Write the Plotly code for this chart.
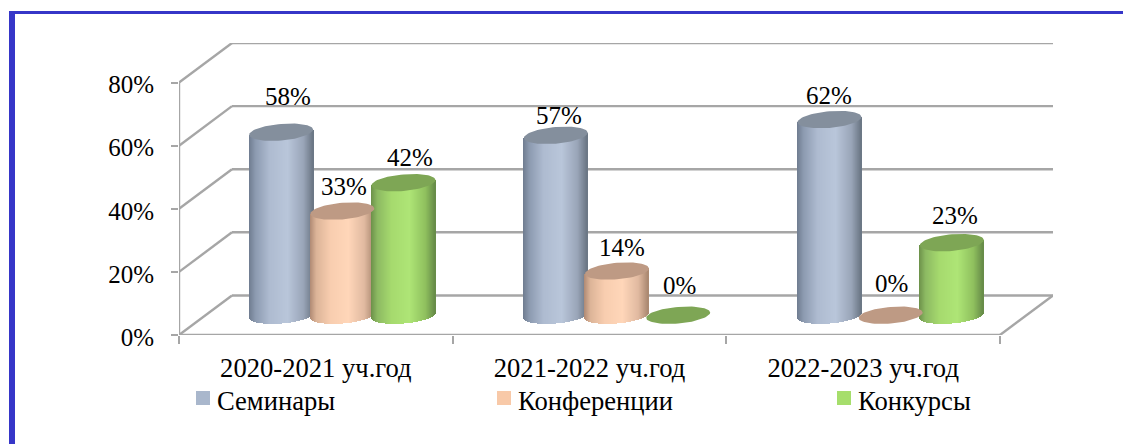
import numpy as np
import plotly.graph_objects as go

categories = ["2020-2021 уч.год", "2021-2022 уч.год", "2022-2023 уч.год"]
series_names = ["Семинары", "Конференции", "Конкурсы"]
seminars = [58, 57, 62]
conferences = [33, 14, 0]
contests = [42, 0, 23]
y_ticks = [0, 20, 40, 60, 80]

# ---- styling / geometry
W, H = 1123, 444
L, R, T, B = 179, 1053, 43, 335
PX_X = 273.67
DX = (R - L) / PX_X - 3          # depth in x units
DY = 12.54                       # depth in y units
PX_Y = (B - T) / (80 + DY)
RAD_X = 32 / PX_X
RAD_Y = 8.3 / PX_Y
SHEAR = 2.6 / PX_Y
STEP = 61.2 / PX_X
GROUP_NUDGE = [0, 1.0 / PX_X, 1.0 / PX_X]
N = 64
FONT = "Liberation Serif"
FS = 25
FS_CAT = 26.6
GRID = "#a6a6a6"
INK = "#000000"

STYLES = [
    dict(stops=[(0, "#6f7c8f"), (.10, "#8c9ab0"), (.32, "#aebbd0"), (.6, "#b9c6da"), (.85, "#99a5b8"), (1, "#6a7583")],
         top="#848f9d", key="#a9b7cc"),
    dict(stops=[(0, "#b08a74"), (.10, "#dcb498"), (.32, "#f8cdaf"), (.6, "#ffd6b9"), (.85, "#e0b9a0"), (1, "#a9876f")],
         top="#be9a84", key="#f8c9a8"),
    dict(stops=[(0, "#6c9049"), (.10, "#8cb962"), (.32, "#a6da6e"), (.6, "#aee576"), (.85, "#8fc05e"), (1, "#668a48")],
         top="#7ea655", key="#a6de6c"),
]
# label nudges in px (dx, dy up), matching the reference's hand-placed labels
NUDGE = [[(7, 35.5), (3, 20), (0, 24)],
         [(1.5, 24.5), (5, 24), (1, 32)],
         [(6, 25), (1, 30), (3, 27)]]


def hex2rgb(h):
    return [int(h[i:i + 2], 16) for i in (1, 3, 5)]


def gradient(stops, fr):
    pos = [s[0] for s in stops]
    rgb = np.array([hex2rgb(s[1]) for s in stops], float)
    return "rgb(%d,%d,%d)" % tuple(round(float(np.interp(fr, pos, rgb[:, k]))) for k in range(3))


fig = go.Figure()
all_values = [seminars, conferences, contests]
centres = lambda s, g: g + 0.5 + DX / 2 + (s - 1) * STEP + GROUP_NUDGE[g]
u = (np.arange(N) + 0.5) / N * 2 - 1
cy = DY / 2

# bodies, as gradient strips of bars
for s, (name, vals, st) in enumerate(zip(series_names, all_values, STYLES)):
    xs, base, hgt, cols = [], [], [], []
    for g, v in enumerate(vals):
        if v <= 0:
            continue
        for ui in u:
            b = cy + SHEAR * ui - RAD_Y * np.sqrt(1 - ui ** 2)
            xs.append(centres(s, g) + ui * RAD_X)
            base.append(b)
            hgt.append(v + cy + SHEAR * ui - b)
            cols.append(gradient(st["stops"], (ui + 1) / 2))
    fig.add_trace(go.Bar(x=xs, y=hgt, base=base, width=2 * RAD_X / N * 1.02, name=name,
                         marker=dict(color=cols, line=dict(width=0)), showlegend=False, hoverinfo="skip"))

# top caps
t = np.linspace(0, 2 * np.pi, 73)
for s, (name, vals, st) in enumerate(zip(series_names, all_values, STYLES)):
    ex, ey = [], []
    for g, v in enumerate(vals):
        ex += list(centres(s, g) + RAD_X * np.cos(t)) + [None]
        ey += list(v + cy + SHEAR * np.cos(t) + RAD_Y * np.sin(t)) + [None]
    fig.add_trace(go.Scatter(x=ex, y=ey, mode="lines", fill="toself", fillcolor=st["top"],
                             line=dict(width=0, color=st["top"]), name=name + " top",
                             showlegend=False, hoverinfo="skip"))

# walls, floor and axis lines
shapes = []
line = dict(color=GRID, width=2.4)


def seg(x0, y0, x1, y1):
    shapes.append(dict(type="line", xref="x", yref="y", x0=x0, y0=y0, x1=x1, y1=y1, line=line, layer="below"))


for v in y_ticks:
    seg(DX, v + DY, 3 + DX, v + DY)
    seg(0, v, DX, v + DY)
seg(0, 0, 0, y_ticks[-1])
seg(0, 0, 3, 0)
seg(3, 0, 3 + DX, DY)

# frame
FRAME = "#3636c8"
plot_w = R - L
plot_h = B - T
to_px = lambda x: (x - L) / plot_w
to_py = lambda y: (B - y) / plot_h
shapes.append(dict(type="rect", xref="paper", yref="paper", x0=to_px(9), x1=to_px(W), y0=to_py(14), y1=to_py(11),
                   fillcolor=FRAME, line=dict(width=0), layer="above"))
shapes.append(dict(type="rect", xref="paper", yref="paper", x0=to_px(9), x1=to_px(15), y0=to_py(H), y1=to_py(11),
                   fillcolor=FRAME, line=dict(width=0), layer="above"))

annotations = []
# value labels
for s, vals in enumerate(all_values):
    for g, v in enumerate(vals):
        nx, ny = NUDGE[s][g]
        annotations.append(dict(x=centres(s, g), y=v + cy, text=f"{v}%", showarrow=False, xshift=nx, yshift=ny,
                                xanchor="center", yanchor="middle", font=dict(family=FONT, size=FS, color=INK)))

# key
KEY_X = [196, 497, 837]
for name, st, kx in zip(series_names, STYLES, KEY_X):
    shapes.append(dict(type="rect", xref="paper", yref="paper", x0=to_px(kx), x1=to_px(kx + 14),
                       y0=to_py(405), y1=to_py(391), fillcolor=st["key"], line=dict(width=0)))
    annotations.append(dict(xref="paper", yref="paper", x=to_px(kx + 18.5), y=to_py(400.5), text=name, showarrow=False,
                            xanchor="left", yanchor="middle", font=dict(family=FONT, size=FS_CAT, color=INK)))

fig.update_layout(
    width=W, height=H, autosize=False, barmode="overlay", bargap=0,
    margin=dict(l=L, r=W - R, t=T, b=H - B, pad=0),
    paper_bgcolor="white", plot_bgcolor="white", showlegend=False,
    shapes=shapes, annotations=annotations,
    font=dict(family=FONT, size=FS, color=INK),
    xaxis=dict(range=[0, 3 + DX], showgrid=False, zeroline=False, showline=False,
               tickvals=[0.5, 1.5, 2.5], ticktext=categories, ticks="", ticklabelstandoff=14,
               tickfont=dict(family=FONT, size=FS_CAT, color=INK),
               minor=dict(tickvals=[0, 1, 2, 3], ticks="outside", ticklen=8, tickwidth=2.4, tickcolor=GRID, showgrid=False)),
    yaxis=dict(range=[0, 80 + DY], showgrid=False, zeroline=False, showline=False,
               tickvals=y_ticks, ticktext=[f"{v}%" for v in y_ticks], ticks="outside", ticklen=7, tickwidth=2.4,
               tickcolor=GRID, ticklabelstandoff=12, ticklabelshift=2, tickfont=dict(family=FONT, size=FS, color=INK)),
)

fig.write_html("out.html", config=dict(displayModeBar=False),
               post_script="document.body.style.margin='0';document.body.style.overflow='hidden';")
